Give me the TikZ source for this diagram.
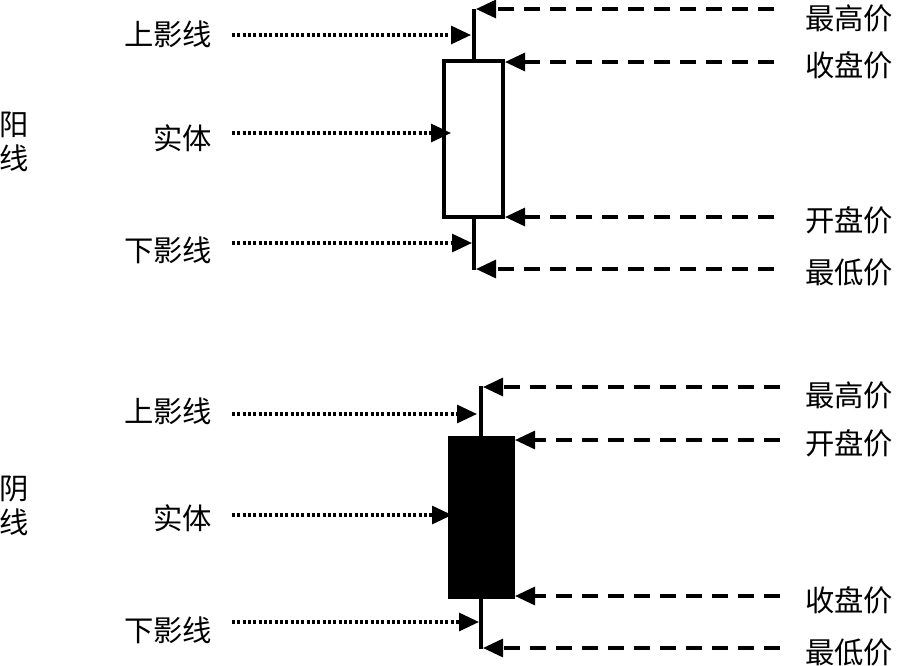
\documentclass[tikz,border=0pt]{standalone}
\usepackage{fontspec}
\newfontfamily\cjk{Noto Sans CJK SC}
\usetikzlibrary{arrows.meta}

\begin{document}
\begin{tikzpicture}[x=0.75pt,y=-0.75pt,line width=2.4pt,line join=miter,
  every node/.style={inner sep=0pt,outer sep=0pt,font=\cjk\fontsize{22pt}{26pt}\selectfont},
  tip/.style={-{Triangle[length=15pt,width=13.5pt]}},
  shadowline/.style={tip,line width=2.3pt,dash pattern=on 2.2pt off 1.8pt},
  priceline/.style={tip,line width=2.3pt,dash pattern=on 12pt off 7.5pt}]
  \path[use as bounding box] (0,0) rectangle (897,665);  % 源图 897×665px
  % ---- 阳线：实体空心框 + 上下影线 ----
  \draw (444,61) rectangle (503,217);
  \draw (474,9) -- (474,61);
  \draw (474,217) -- (474,270);
  % ---- 阴线：实体实心框 ----
  \filldraw (450,438) rectangle (513,597);
  \draw (481,386) -- (481,438);
  \draw (481,597) -- (481,649);
  % ---- 箭头落点（箭尖）----
  \coordinate (hi1)   at (476,9);
  \coordinate (up1)   at (471,35);
  \coordinate (cl1)   at (505,62);
  \coordinate (body1) at (451,133);
  \coordinate (op1)   at (505,217);
  \coordinate (dn1)   at (472,243);
  \coordinate (lo1)   at (476,269);
  \coordinate (hi2)   at (483,387);
  \coordinate (up2)   at (477,414);
  \coordinate (op2)   at (515,440);
  \coordinate (body2) at (452,515);
  \coordinate (cl2)   at (515,596);
  \coordinate (dn2)   at (479,622);
  \coordinate (lo2)   at (483,648);
  % ---- 左侧标签 ----
  \node[align=center] (yang) at (14,142) {阳\\线};
  \node[align=center] (yin)  at (14,506) {阴\\线};
  \node[anchor=east] (up1lbl)   at (212,34)  {上影线};
  \node[anchor=east] (body1lbl) at (212,138) {实体};
  \node[anchor=east] (dn1lbl)   at (212,250) {下影线};
  \node[anchor=east] (up2lbl)   at (212,411) {上影线};
  \node[anchor=east] (body2lbl) at (212,518) {实体};
  \node[anchor=east] (dn2lbl)   at (212,630) {下影线};
  % ---- 右侧价格标签 ----
  \node[anchor=west] (hi1lbl) at (805,18)  {最高价};
  \node[anchor=west] (cl1lbl) at (805,65)  {收盘价};
  \node[anchor=west] (op1lbl) at (805,220) {开盘价};
  \node[anchor=west] (lo1lbl) at (805,272) {最低价};
  \node[anchor=west] (hi2lbl) at (805,395) {最高价};
  \node[anchor=west] (op2lbl) at (805,443) {开盘价};
  \node[anchor=west] (cl2lbl) at (805,600) {收盘价};
  \node[anchor=west] (lo2lbl) at (805,652) {最低价};
  % ---- 点线：影线、实体 ----
  \foreach \n in {up1,body1,dn1,up2,body2,dn2}
    \draw[shadowline,shorten <=15pt] (\n lbl.east |- \n) -- (\n);
  % ---- 虚线：四个价位 ----
  \foreach \n in {hi1,cl1,op1,lo1}
    \draw[priceline,shorten <=23pt] (\n lbl.west |- \n) -- (\n);
  \foreach \n in {hi2,op2,cl2,lo2}
    \draw[priceline,shorten <=19pt] (\n lbl.west |- \n) -- (\n);
\end{tikzpicture}
\end{document}
